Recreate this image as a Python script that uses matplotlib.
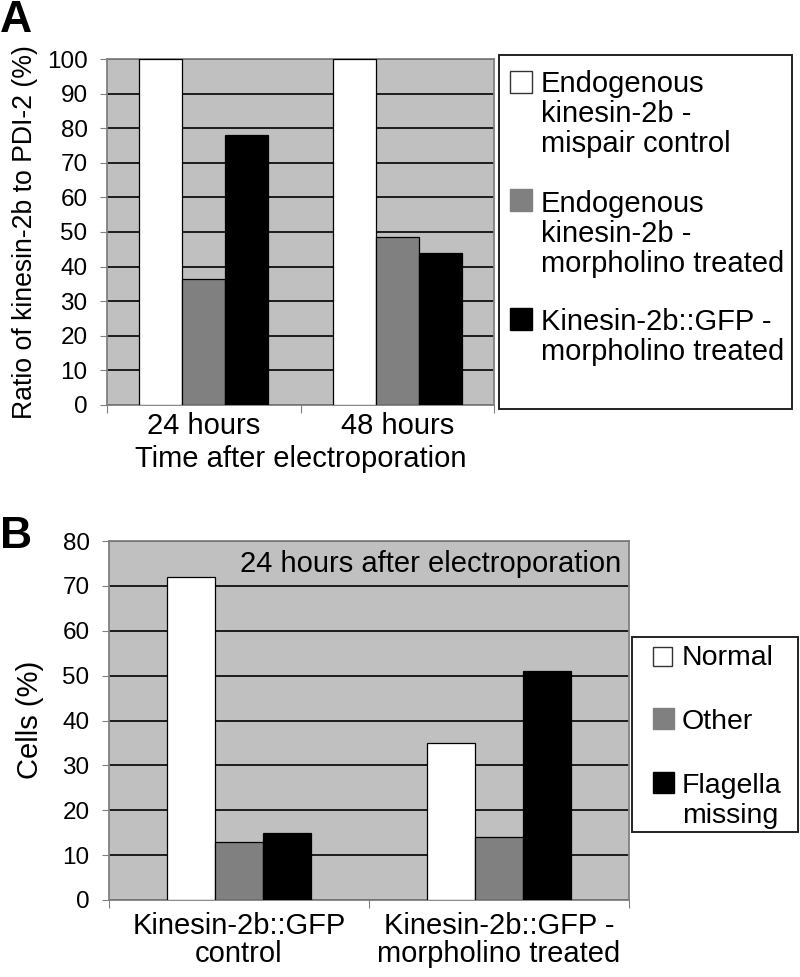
import matplotlib
matplotlib.use("Agg")
import matplotlib.pyplot as plt
import numpy as np
from matplotlib.patches import Rectangle

plt.rcParams['font.family'] = ['Liberation Sans', 'DejaVu Sans']

# ---------------- data ----------------
a_categories = ["24 hours", "48 hours"]
a_series = ["Endogenous\nkinesin-2b -\nmispair control",
            "Endogenous\nkinesin-2b -\nmorpholino treated",
            "Kinesin-2b::GFP -\nmorpholino treated"]
a_mispair = [100, 100]
a_endo_morph = [36.5, 48.5]
a_gfp_morph = [78, 44]
a_yticks = list(range(0, 101, 10))

b_categories = ["Kinesin-2b::GFP\ncontrol", "Kinesin-2b::GFP -\nmorpholino treated"]
b_series = ["Normal", "Other", "Flagella\nmissing"]
b_normal = [72, 35]
b_other = [13, 14]
b_flagella = [15, 51]
b_yticks = list(range(0, 81, 10))

colors = ["#FFFFFF", "#808080", "#000000"]
BG = "#C0C0C0"
SPINE = "#808080"

W, H = 800, 977
fig = plt.figure(figsize=(W / 100, H / 100), dpi=100)


def fx(px):
    return px / W


def fy(py):
    return 1 - py / H


def style_axes(ax, ncat, yticks):
    ax.set_facecolor(BG)
    ax.set_xlim(-0.5, ncat - 0.5)
    ax.set_ylim(yticks[0], yticks[-1])
    ax.set_yticks(yticks)
    ax.yaxis.grid(True, color="black", linewidth=1.2)
    ax.set_axisbelow(True)
    for s in ax.spines.values():
        s.set_color(SPINE)
        s.set_linewidth(1.3)
    ax.set_xticks(np.arange(-0.5, ncat, 1.0))
    ax.set_xticklabels([])
    ax.tick_params(axis="x", which="major", length=6, color=SPINE, direction="out")
    ax.tick_params(axis="y", which="major", length=5, color=SPINE, direction="out",
                   labelsize=17.5, pad=9)


def bars(ax, series_vals, width):
    x = np.arange(len(series_vals[0]))
    for i, vals in enumerate(series_vals):
        ax.bar(x + (i - 1) * width, vals, width=width, color=colors[i],
               edgecolor="black", linewidth=0.9, zorder=3)


def legend_box(x0, y0, x1, y1, entries, fs):
    fig.patches.append(Rectangle((fx(x0), fy(y1)), fx(x1) - fx(x0), fy(y0) - fy(y1),
                                 transform=fig.transFigure, facecolor="white",
                                 edgecolor="#222222", linewidth=1.4))
    for (label, col, sqx, sqy0, sqy1, tx, base, step) in entries:
        fig.patches.append(Rectangle((fx(sqx), fy(sqy1)), fx(sqy1 - sqy0), fy(sqy0) - fy(sqy1),
                                     transform=fig.transFigure, facecolor=col,
                                     edgecolor="#333333" if col == "#FFFFFF" else col,
                                     linewidth=1.0))
        for k, line in enumerate(label.split("\n")):
            fig.text(fx(tx), fy(base + k * step), line, fontsize=fs,
                     ha="left", va="baseline")


# ---------------- panel A ----------------
axA = fig.add_axes([fx(107), fy(405), fx(494 - 107), (405 - 59) / H])
style_axes(axA, len(a_categories), a_yticks)
bars(axA, [a_mispair, a_endo_morph, a_gfp_morph], 0.222)
axA.set_xticks(np.arange(len(a_categories)), minor=True)
axA.set_xticklabels(a_categories, minor=True, fontsize=21)
axA.tick_params(axis="x", which="minor", length=0, pad=5)
axA.set_xlabel("Time after electroporation", fontsize=21, labelpad=4)
fig.text(fx(12), fy(232), "Ratio of kinesin-2b to PDI-2 (%)", rotation=90,
         fontsize=19.2, ha="left", va="center")
fig.text(0, fy(32), "A", fontsize=32, fontweight="bold", ha="left", va="baseline")

legend_box(499, 55, 792, 409, [
    (a_series[0], colors[0], 510, 71, 93, 541, 92, 30),
    (a_series[1], colors[1], 510, 189, 211, 541, 212, 30),
    (a_series[2], colors[2], 510, 308, 330, 541, 330, 30),
], 21)

# ---------------- panel B ----------------
axB = fig.add_axes([fx(109), fy(900), fx(629 - 109), (900 - 541) / H])
style_axes(axB, len(b_categories), b_yticks)
bars(axB, [b_normal, b_other, b_flagella], 0.185)
axB.set_xticks(np.arange(len(b_categories)), minor=True)
axB.set_xticklabels(b_categories, minor=True, fontsize=21, linespacing=0.98)
axB.tick_params(axis="x", which="minor", length=0, pad=9)
axB.text(1 - 8 / 520, (900 - 572) / 359, "24 hours after electroporation",
         transform=axB.transAxes, fontsize=21, ha="right", va="baseline")
fig.text(fx(16), fy(720), "Cells (%)", rotation=90, fontsize=21,
         ha="left", va="center")
fig.text(0, fy(548), "B", fontsize=32, fontweight="bold", ha="left", va="baseline")

legend_box(632, 637, 798, 832, [
    (b_series[0], colors[0], 653, 647, 666, 682, 665, 30),
    (b_series[1], colors[1], 653, 708, 729, 682, 729, 30),
    (b_series[2], colors[2], 653, 772, 793, 682, 793, 30),
], 20.5)

fig.savefig("out.png", dpi=100)
